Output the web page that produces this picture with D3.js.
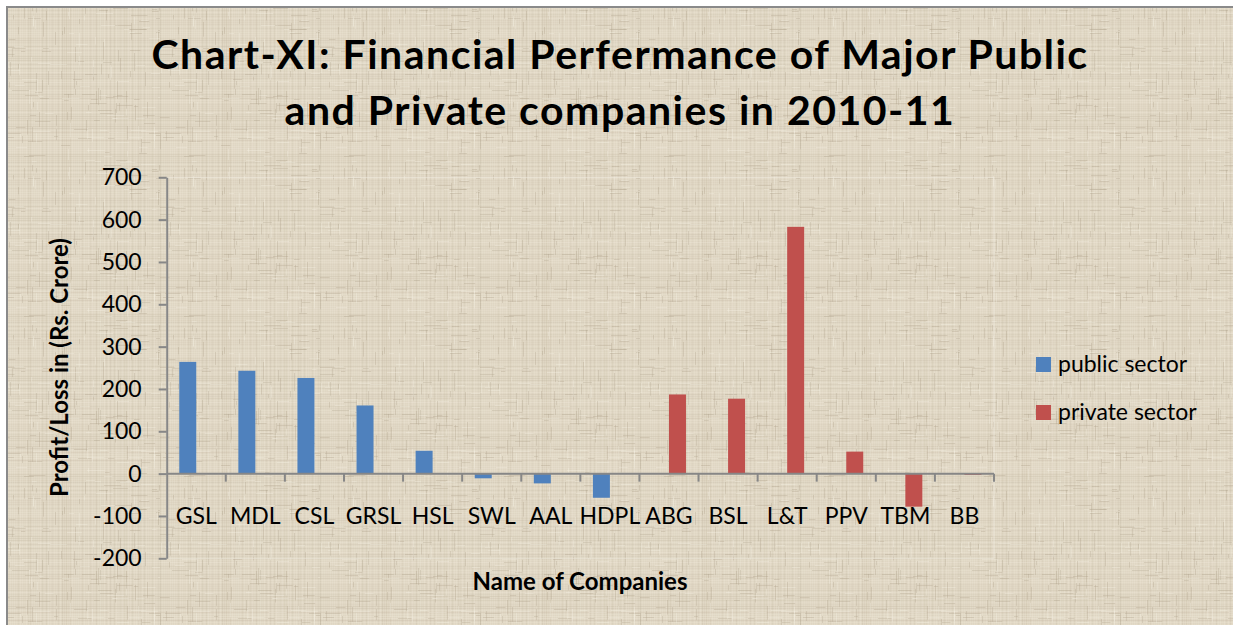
<!DOCTYPE html>
<html>
<head>
<meta charset="utf-8">
<script src="https://cdn.jsdelivr.net/npm/d3@7"></script>
<style>
  body { margin: 0; background: #fff; }
  text { font-family: Lato, "Open Sans", sans-serif; fill: #000; }
</style>
</head>
<body>
<div id="chart"></div>
<script>
// data (Rs. Crore)
const companies = ["GSL", "MDL", "CSL", "GRSL", "HSL", "SWL", "AAL", "HDPL", "ABG", "BSL", "L&T", "PPV", "TBM", "BB"];
const publicSector = [264, 243, 226, 161, 54, -11, -23, -57, null, null, null, null, null, null];
const privateSector = [null, null, null, null, null, null, null, null, 187, 177, 583, 52, -78, -3];
const seriesNames = ["public sector", "private sector"];
const seriesColors = ["#4f81bd", "#c0504d"];
const yTicks = [-200, -100, 0, 100, 200, 300, 400, 500, 600, 700];

const width = 1233, height = 625;
const plot = { left: 166.7, right: 994, top: 177.3, bottom: 558.3 };

let svg = d3.select("#chart")
    .append("svg")
    .attr("width", width)
    .attr("height", height);

// linen-like background texture (decoration only)
let defs = svg.append("defs");
let pat = defs.append("pattern")
    .attr("id", "linen")
    .attr("patternUnits", "userSpaceOnUse")
    .attr("width", 160)
    .attr("height", 160);
pat.append("rect").attr("width", 160).attr("height", 160).attr("fill", "#dfd6c3");
let seed = 7;
function rnd() { seed = (seed * 16807) % 2147483647; return seed / 2147483647; }
for (let i = 0; i < 160; i += 2) {
    pat.append("rect")
        .attr("x", i).attr("y", 0).attr("width", 1).attr("height", 160)
        .attr("fill", rnd() < 0.5 ? "#bfb39c" : "#f1eadb")
        .attr("opacity", 0.08 + rnd() * 0.2);
    pat.append("rect")
        .attr("x", 0).attr("y", i).attr("width", 160).attr("height", 1)
        .attr("fill", rnd() < 0.5 ? "#c1b59f" : "#f3ecdd")
        .attr("opacity", 0.08 + rnd() * 0.2);
}
for (let k = 0; k < 220; k++) {
    let vert = rnd() < 0.5;
    pat.append("rect")
        .attr("x", Math.floor(rnd() * 160))
        .attr("y", Math.floor(rnd() * 160))
        .attr("width", vert ? 1 : 4 + rnd() * 14)
        .attr("height", vert ? 4 + rnd() * 14 : 1)
        .attr("fill", rnd() < 0.6 ? "#aca08a" : "#f7f2e6")
        .attr("opacity", 0.3);
}

svg.append("rect")
    .attr("x", 7).attr("y", 7)
    .attr("width", width + 20).attr("height", height + 20)
    .attr("fill", "url(#linen)")
    .attr("stroke", "#8a8a8a")
    .attr("stroke-width", 2);

let x = d3.scaleBand()
    .domain(companies)
    .range([plot.left, plot.right]);

let xSub = d3.scaleBand()
    .domain(seriesNames)
    .range([0, x.bandwidth()])
    .paddingOuter(0.74);

let y = d3.scaleLinear()
    .domain([-200, 700])
    .range([plot.bottom, plot.top]);

let color = d3.scaleOrdinal()
    .domain(seriesNames)
    .range(seriesColors);

// faint plot area edge
svg.append("rect")
    .attr("x", plot.left).attr("y", plot.top)
    .attr("width", plot.right - plot.left).attr("height", plot.bottom - plot.top)
    .attr("fill", "none")
    .attr("stroke", "#f4efe4")
    .attr("stroke-opacity", 0.6);

// bars
let rows = [];
companies.forEach(function(c, i) {
    if (publicSector[i] != null) rows.push({ name: c, series: seriesNames[0], value: publicSector[i] });
    if (privateSector[i] != null) rows.push({ name: c, series: seriesNames[1], value: privateSector[i] });
});

svg.append("g")
    .selectAll("rect")
    .data(rows)
    .enter()
    .append("rect")
    .attr("x", function(d) { return x(d.name) + xSub(d.series); })
    .attr("y", function(d) { return y(Math.max(0, d.value)); })
    .attr("width", xSub.bandwidth())
    .attr("height", function(d) { return Math.abs(y(d.value) - y(0)); })
    .attr("fill", function(d) { return color(d.series); });

// y axis
let yAxis = svg.append("g")
    .attr("transform", `translate(${plot.left}, 0)`)
    .call(d3.axisLeft(y)
        .tickValues(yTicks)
        .tickFormat(function(d) { return String(d); })
        .tickSize(8).tickSizeOuter(0).tickPadding(17));
yAxis.selectAll("path, line").attr("stroke", "#878787").attr("stroke-width", 2);
yAxis.selectAll("text")
    .style("font-size", "23px")
    .style("font-family", "Lato, sans-serif")
    .attr("fill", "#000");

// x axis along zero line, ticks at category boundaries
let xAxis = svg.append("g");
xAxis.append("line")
    .attr("x1", plot.left).attr("x2", plot.right)
    .attr("y1", y(0)).attr("y2", y(0))
    .attr("stroke", "#878787").attr("stroke-width", 2);
xAxis.selectAll(".tick")
    .data(companies.slice(1).map(function(c) { return x(c); }).concat([plot.right]))
    .enter()
    .append("line")
    .attr("x1", function(d) { return d; }).attr("x2", function(d) { return d; })
    .attr("y1", y(0)).attr("y2", y(0) + 8)
    .attr("stroke", "#878787").attr("stroke-width", 2);
xAxis.selectAll("text")
    .data(companies)
    .enter()
    .append("text")
    .attr("x", function(d) { return x(d) + x.bandwidth() / 2; })
    .attr("y", y(0) + 50.5)
    .style("text-anchor", "middle")
    .style("font-size", "23px")
    .text(function(d) { return d; });

// title
let titleLines = ["Chart-XI: Financial Perfermance of Major Public", "and Private companies in 2010-11"];
svg.append("g").selectAll("text")
    .data(titleLines)
    .enter()
    .append("text")
    .attr("x", 620)
    .attr("y", function(d, i) { return 69 + i * 55.5; })
    .style("text-anchor", "middle")
    .style("font-size", "41px")
    .style("font-weight", "bold")
    .style("letter-spacing", "1.5px")
    .text(function(d) { return d; });

// axis titles
svg.append("text")
    .attr("transform", `translate(${68}, ${367.5})rotate(-90)`)
    .style("text-anchor", "middle")
    .style("font-size", "24px")
    .style("font-weight", "bold")
    .text("Profit/Loss in (Rs. Crore)");
svg.append("text")
    .attr("x", 580).attr("y", 589.5)
    .style("text-anchor", "middle")
    .style("font-size", "24px")
    .style("font-weight", "bold")
    .text("Name of Companies");

// legend
let legend = svg.append("g").attr("transform", "translate(1036, 357)");
seriesNames.forEach(function(s, i) {
    legend.append("rect")
        .attr("x", 0).attr("y", i * 48)
        .attr("width", 15).attr("height", 15)
        .attr("fill", color(s));
    legend.append("text")
        .attr("x", 22).attr("y", i * 48 + 14.5)
        .style("font-size", "23px")
        .text(s);
});
</script>
</body>
</html>
